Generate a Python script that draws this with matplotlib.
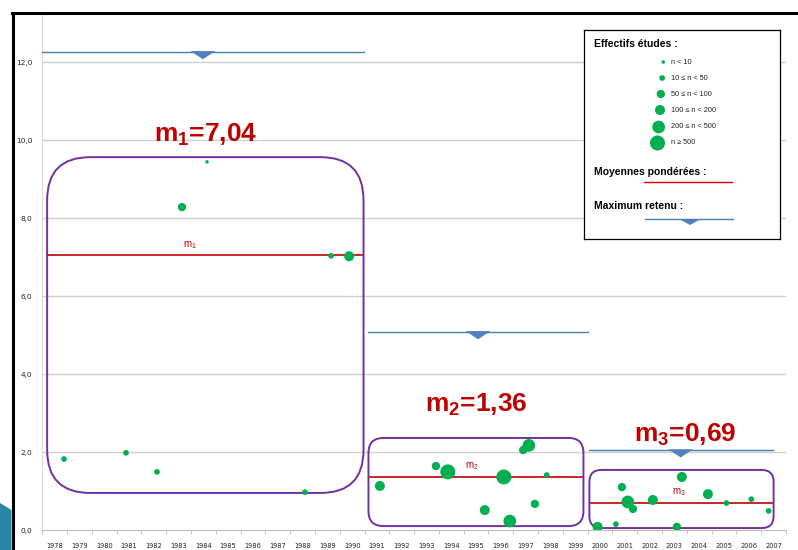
import numpy as np
import matplotlib.pyplot as plt
from matplotlib.patches import FancyBboxPatch, Polygon, Rectangle
from matplotlib.lines import Line2D

plt.rcParams['mathtext.fontset'] = 'custom'
plt.rcParams['mathtext.rm'] = 'Liberation Sans'
plt.rcParams['mathtext.it'] = 'Liberation Sans'
plt.rcParams['mathtext.bf'] = 'Liberation Sans:bold'

# --- data ---
years = list(range(1978, 2008))
y_ticks = [0, 2, 4, 6, 8, 10, 12]

# one point per study: year position, value, size class (0: n<10 ... 5: n>=500)
pt_year = [1978.38, 1980.88, 1982.13, 1983.14, 1984.15, 1988.1, 1989.15, 1989.88,
           1991.12, 1993.38, 1993.86, 1995.35, 1996.12, 1996.36, 1996.9, 1997.13,
           1997.37, 1997.85,
           1999.9, 2000.64, 2000.88, 2001.12, 2001.33, 2002.13, 2003.1, 2003.3,
           2004.35, 2005.1, 2006.1, 2006.8]
pt_val = [1.82, 1.98, 1.49, 8.28, 9.44, 0.97, 7.03, 7.02,
          1.13, 1.64, 1.49, 0.51, 1.36, 0.23, 2.05, 2.17, 0.67, 1.41,
          0.08, 0.15, 1.10, 0.72, 0.54, 0.77, 0.08, 1.36, 0.92, 0.69, 0.79, 0.49]
pt_cls = [1, 1, 1, 2, 0, 1, 1, 3,
          3, 2, 5, 3, 5, 4, 2, 4, 2, 1,
          3, 1, 2, 4, 2, 3, 2, 3, 3, 1, 1, 1]

size_labels = ['n < 10', '10 ≤ n < 50', '50 ≤ n < 100', '100 ≤ n < 200',
               '200 ≤ n < 500', 'n ≥ 500']

# three periods
per_start = [1977.7, 1990.66, 1999.57]
per_end = [1990.46, 1999.33, 2007.0]
box_top = [9.56, 2.36, 1.54]
box_bot = [0.95, 0.10, 0.05]
means = [7.04, 1.36, 0.69]
mean_txt = ['7,04', '1,36', '0,69']
max_start = [1977.5, 1990.66, 1999.54]
max_end = [1990.46, 1999.5, 2006.96]
max_kept = [12.26, 5.08, 2.05]

# --- style ---
green = '#00b050'
red = '#c00000'
purple = '#7030a0'
blue = '#4a7ebb'
blue_fill = '#4f81bd'
diam_px = [3.5, 5.7, 8.3, 10.0, 12.7, 15.0]

W, H = 798, 550
fig = plt.figure(figsize=(W / 100, H / 100), dpi=100)
ax = fig.add_axes([42.2 / W, 20 / H, (786 - 42.2) / W, (530 - 15.2) / H])
ax.set_xlim(1977.5, 2007.5)
ax.set_ylim(0, 13.2)

for v in y_ticks[1:]:
    ax.axhline(v, color='#d0d0d0', lw=1, zorder=0)

# rounded period boxes (corners corrected for axis aspect)
asp = 24.8 / 39.0
radius_px = [43, 15, 12]
for i in range(3):
    r = radius_px[i] / 24.8
    b = FancyBboxPatch((per_start[i], box_bot[i]), per_end[i] - per_start[i],
                       box_top[i] - box_bot[i],
                       boxstyle='round,pad=0,rounding_size=%f' % r,
                       mutation_aspect=asp, fc='none', ec=purple, lw=1.4, zorder=2)
    ax.add_patch(b)
    # weighted mean
    ax.plot([per_start[i] + 0.05, per_end[i] - 0.05], [means[i], means[i]],
            color=red, lw=1.2, zorder=3)
    # maximum kept
    ax.plot([max_start[i], max_end[i]], [max_kept[i], max_kept[i]],
            color=blue, lw=1, zorder=3)
    c = (max_start[i] + max_end[i]) / 2
    ax.add_patch(Polygon([(c - 0.5, max_kept[i] + 0.02), (c + 0.5, max_kept[i] + 0.02),
                          (c, max_kept[i] - 0.19)], closed=True,
                         fc=blue_fill, ec='none', zorder=3))
    # big label
    ax.text((per_start[i] + per_end[i]) / 2 + [0, 0, 0.15][i],
            [10.13, 3.2, 2.44][i],
            r'm$_{\mathregular{%d}}$=%s' % (i + 1, mean_txt[i]),
            color=red, fontsize=19, fontweight='bold', family='Liberation Sans',
            ha='center', va='center', zorder=4)

# small labels on mean lines
small_x = [1983.46, 1994.83, 2003.18]
for i in range(3):
    ax.text(small_x[i], means[i] + 0.12, r'm$_{\mathregular{%d}}$' % (i + 1),
            color=red, fontsize=7, family='Liberation Sans',
            ha='center', va='bottom', zorder=4)

sizes = [(diam_px[k] * 0.72) ** 2 for k in pt_cls]
ax.scatter(pt_year, pt_val, s=sizes, color=green, edgecolors='none', zorder=5)

ax.set_xticks(years)
ax.set_xticklabels([str(y) for y in years], fontsize=4.8, color='#222222')
ax.set_xticks(np.arange(1977.5, 2008, 1), minor=True)
ax.tick_params(axis='x', which='major', length=0, pad=9)
ax.tick_params(axis='x', which='minor', length=3, color='#bfbfbf')
ax.set_yticks(y_ticks)
ax.set_yticklabels([('%.1f' % v).replace('.', ',') for v in y_ticks],
                   fontsize=5.3, color='#222222')
ax.tick_params(axis='y', length=0, pad=7)
for s in ['top', 'right']:
    ax.spines[s].set_visible(False)
ax.spines['left'].set_color('#d9d9d9')
ax.spines['bottom'].set_color('#bfbfbf')

# legend box, in figure pixel coordinates
lg = fig.add_axes([584 / W, 1 - 239 / H, 196 / W, 209 / H])
lg.set_xlim(584, 780)
lg.set_ylim(239, 30)
lg.set_xticks([])
lg.set_yticks([])
for s in lg.spines.values():
    s.set_color('black')
    s.set_linewidth(0.9)
lg.text(594, 44, 'Effectifs études :', fontsize=7.5, fontweight='bold',
        family='Liberation Sans', va='center')
row_y = [62, 78, 94, 110, 127, 143]
for k in range(6):
    lg.scatter([667 - diam_px[k] / 2 - 2], [row_y[k]], s=(diam_px[k] * 0.72) ** 2,
               color=green, edgecolors='none')
    lg.text(671, row_y[k], size_labels[k], fontsize=5.3, family='Liberation Sans',
            va='center', color='#222222')
lg.text(594, 172, 'Moyennes pondérées :', fontsize=7.5, fontweight='bold',
        family='Liberation Sans', va='center')
lg.plot([644, 732], [181.5, 181.5], color='#e00000', lw=1)
lg.text(594, 206, 'Maximum retenu :', fontsize=7.5, fontweight='bold',
        family='Liberation Sans', va='center')
lg.plot([645, 733], [219.3, 219.3], color=blue, lw=1)
lg.add_patch(Polygon([(679, 219), (701, 219), (690, 225)], closed=True,
                     fc=blue_fill, ec='none'))

# slide frame
fig.add_artist(Line2D([12 / W, 1], [1 - 13 / H, 1 - 13 / H], color='black', lw=2.2))
fig.add_artist(Line2D([13 / W, 13 / W], [0, 1 - 13 / H], color='black', lw=2.2))
fig.add_artist(Polygon([(0, 1 - 503 / H), (11.5 / W, 1 - 510 / H), (11.5 / W, 0), (0, 0)],
                       closed=True, fc='#2a86a6', ec='none', transform=fig.transFigure))

fig.savefig('out.png', dpi=100)
